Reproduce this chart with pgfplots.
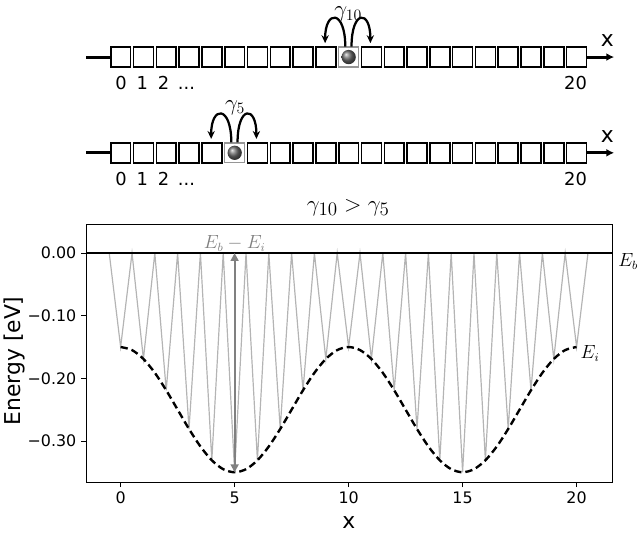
\documentclass[border=0pt]{standalone}
\usepackage[no-math]{fontspec}
\setmainfont{DejaVu Sans}
\usepackage{pgfplots}
\pgfplotsset{compat=1.18}
\usetikzlibrary{arrows.meta}
\definecolor{wellgray}{RGB}{180,180,180}
\definecolor{arrgray}{RGB}{128,128,128}
\tikzset{px/.style={x=0.75pt,y=-0.75pt,shift={(-61.275pt,364.5pt)}}}
\newcommand{\chain}[2]{% #1 = y centre (px), #2 = particle site
  \draw[line width=2.2pt] (82,#1) -- (106.5,#1);
  \draw[line width=2.2pt,-{Latex[length=6pt,width=6pt]}] (586,#1) -- (614,#1);
  \foreach \i in {0,...,20}{
    \pgfmathsetmacro{\cx}{116.7+22.97*\i}
    \ifnum\i=#2
      \draw[line width=1.0pt,draw={rgb,255:red,150;green,150;blue,150},fill=white] (\cx-10,#1-10) rectangle (\cx+10,#1+10);
    \else
      \draw[line width=1.2pt,fill=white] (\cx-10,#1-10) rectangle (\cx+10,#1+10);
    \fi
  }
  \pgfmathsetmacro{\pc}{116.7+22.97*#2}
  \shade[ball color=gray!85!black] (\pc,#1) circle (5.4pt);
  \draw[line width=1.7pt,-{Stealth[length=6pt,width=5.5pt]}] (\pc-3.4,#1-10.5) .. controls (\pc-3.4,#1-48) and (\pc-23.7,#1-48) .. (\pc-23.7,#1-14);
  \draw[line width=1.7pt,-{Stealth[length=6pt,width=5.5pt]}] (\pc+2.9,#1-10.5) .. controls (\pc+2.9,#1-48) and (\pc+21.9,#1-48) .. (\pc+21.9,#1-14);
  \node[font=\fontsize{13.5}{16}\selectfont,anchor=base] at (117,#1+32.5) {0};
  \node[font=\fontsize{13.5}{16}\selectfont,anchor=base] at (138.5,#1+32.5) {1};
  \node[font=\fontsize{13.5}{16}\selectfont,anchor=base] at (160,#1+32.5) {2};
  \node[font=\fontsize{13.5}{16}\selectfont,anchor=base] at (183,#1+32.5) {...};
  \node[font=\fontsize{13.5}{16}\selectfont,anchor=base] at (575,#1+32.5) {20};
  \node[font=\fontsize{16.5}{19}\selectfont,anchor=base] at (607,#1-10.5) {x};
}
\begin{document}
\begin{tikzpicture}
\begin{scope}[px]
\path[use as bounding box] (0,0) rectangle (640,535);
\end{scope}
\begin{axis}[
  at={(0,0)}, anchor=south west,
  scale only axis, width=397.5pt, height=195.2pt,
  xmin=-1.52, xmax=21.55, ymin=-0.366, ymax=0.0464,
  xtick={0,5,10,15,20}, xticklabels={0,5,10,15,20},
  ytick={-0.3,-0.2,-0.1,0}, yticklabels={−0.30,−0.20,−0.10,0.00},
  tick align=outside, tick pos=left,
  major tick length=3.75pt,
  tick style={black, line width=0.6pt},
  axis line style={line width=0.6pt},
  ticklabel style={font=\fontsize{12}{14}\selectfont},
  xlabel={x}, ylabel={Energy [eV]},
  label style={font=\fontsize{16.5}{19}\selectfont},
  xlabel style={at={(axis description cs:0.5,-0.18)}, anchor=base},
  ylabel style={at={(axis description cs:-0.135,0.47)}, anchor=center},
  clip=false,
]
\addplot[wellgray, line width=0.9pt] coordinates {
(-0.5,0) (0,-0.15) (0.5,0) (1,-0.1691) (1.5,0) (2,-0.2191) (2.5,0) (3,-0.2809) (3.5,0) (4,-0.3309) (4.5,0)
(5,-0.35) (5.5,0) (6,-0.3309) (6.5,0) (7,-0.2809) (7.5,0) (8,-0.2191) (8.5,0) (9,-0.1691) (9.5,0)
(10,-0.15) (10.5,0) (11,-0.1691) (11.5,0) (12,-0.2191) (12.5,0) (13,-0.2809) (13.5,0) (14,-0.3309) (14.5,0)
(15,-0.35) (15.5,0) (16,-0.3309) (16.5,0) (17,-0.2809) (17.5,0) (18,-0.2191) (18.5,0) (19,-0.1691) (19.5,0)
(20,-0.15) (20.5,0)};
\addplot[black, line width=0.9pt] coordinates {(-1.52,0) (21.55,0)};
\addplot[black, line width=1.8pt, dash pattern=on 5.5pt off 3pt, smooth] coordinates {
(0,-0.15) (0.5,-0.1549) (1,-0.1691) (1.5,-0.1912) (2,-0.2191) (2.5,-0.25) (3,-0.2809) (3.5,-0.3088) (4,-0.3309) (4.5,-0.3451)
(5,-0.35) (5.5,-0.3451) (6,-0.3309) (6.5,-0.3088) (7,-0.2809) (7.5,-0.25) (8,-0.2191) (8.5,-0.1912) (9,-0.1691) (9.5,-0.1549)
(10,-0.15) (10.5,-0.1549) (11,-0.1691) (11.5,-0.1912) (12,-0.2191) (12.5,-0.25) (13,-0.2809) (13.5,-0.3088) (14,-0.3309) (14.5,-0.3451)
(15,-0.35) (15.5,-0.3451) (16,-0.3309) (16.5,-0.3088) (17,-0.2809) (17.5,-0.25) (18,-0.2191) (18.5,-0.1912) (19,-0.1691) (19.5,-0.1549)
(20,-0.15)};
\addplot[arrgray, line width=1.4pt, {Triangle[width=6pt,length=6pt]}-{Triangle[width=6pt,length=6pt]}] coordinates {(5,-0.35) (5,0)};
\node[anchor=north, inner sep=0, text=arrgray, font=\fontsize{13.5}{16}\selectfont] at (axis cs:5,0.029) {$E_b - E_i$};
\node[anchor=north west, inner sep=0, font=\fontsize{13.5}{16}\selectfont] at (axis cs:21.82,0) {$E_b$};
\node[anchor=north west, inner sep=0, font=\fontsize{13.5}{16}\selectfont] at (axis cs:20.17,-0.147) {$E_i$};
\end{axis}
\begin{scope}[px]
\chain{57.5}{10}
\chain{154}{5}
\node[font=\fontsize{17}{20}\selectfont,anchor=base,inner sep=0pt] at (346,17) {$\gamma_{10}$};
\node[font=\fontsize{17}{20}\selectfont,anchor=base,inner sep=0pt] at (232,111) {$\gamma_{5}$};
\node[font=\fontsize{19}{22}\selectfont,anchor=base] at (346,213) {$\gamma_{10} > \gamma_5$};
\end{scope}
\end{tikzpicture}
\end{document}
